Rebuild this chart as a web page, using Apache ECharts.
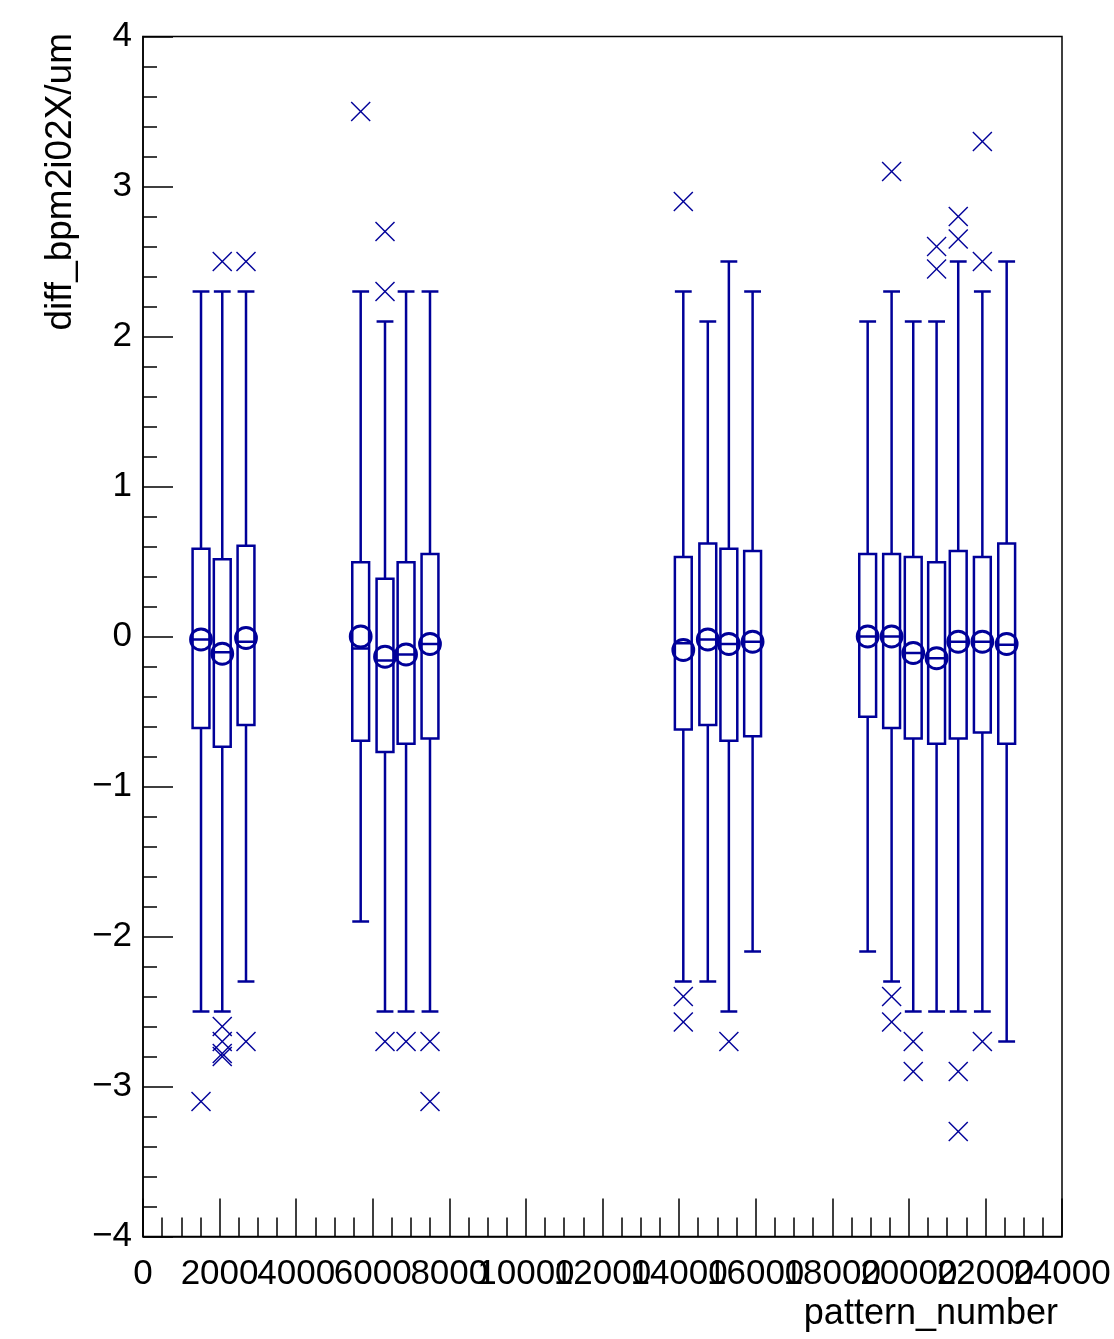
<!DOCTYPE html>
<html>
<head>
<meta charset="utf-8">
<script src="https://cdn.jsdelivr.net/npm/echarts@6/dist/echarts.min.js"></script>
<style>
  html, body { margin: 0; padding: 0; background: #fff; overflow: hidden; }
  #chart { width: 1114px; height: 1339px; }
</style>
</head>
<body>
<div id="chart"></div>
<script>
// ---- data ----
const positions   = [1515, 2070, 2690, 5685, 6320, 6870, 7495, 14110, 14750, 15300, 15920, 18925, 19550, 20115, 20725, 21290, 21920, 22555];
const whiskerLow  = [-2.5, -2.5, -2.3, -1.9, -2.5, -2.5, -2.5, -2.3, -2.3, -2.5, -2.1, -2.1, -2.3, -2.5, -2.5, -2.5, -2.5, -2.7];
const q1          = [-0.61, -0.735, -0.59, -0.695, -0.77, -0.715, -0.68, -0.62, -0.59, -0.695, -0.665, -0.535, -0.61, -0.68, -0.715, -0.68, -0.64, -0.715];
const median      = [-0.02, -0.105, -0.035, -0.08, -0.16, -0.12, -0.05, -0.045, -0.02, -0.05, -0.035, 0.0, 0.0, -0.11, -0.145, -0.035, -0.035, -0.055];
const q3          = [0.585, 0.515, 0.605, 0.495, 0.385, 0.495, 0.55, 0.53, 0.62, 0.585, 0.57, 0.55, 0.55, 0.53, 0.495, 0.57, 0.53, 0.62];
const whiskerHigh = [2.3, 2.3, 2.3, 2.3, 2.1, 2.3, 2.3, 2.3, 2.1, 2.5, 2.3, 2.1, 2.3, 2.1, 2.1, 2.5, 2.3, 2.5];
const means       = [-0.02, -0.115, -0.01, 0.0, -0.135, -0.12, -0.05, -0.09, -0.02, -0.05, -0.035, 0.0, 0.0, -0.11, -0.145, -0.035, -0.035, -0.05];

// outliers: index of the box they belong to, and value
const outlierIdx = [0, 1, 1, 1, 1, 1, 2, 2, 3, 4, 4, 4, 5, 6, 6, 7, 7, 7, 9, 12, 12, 12, 13, 13, 14, 14, 15, 15, 15, 15, 16, 16, 16];
const outlierVal = [-3.1, 2.5, -2.6, -2.7, -2.78, -2.8, 2.5, -2.7, 3.5, 2.7, 2.3, -2.7, -2.7, -2.7, -3.1, 2.9, -2.4, -2.57, -2.7, 3.1, -2.4, -2.57, -2.7, -2.9, 2.6, 2.45, 2.8, 2.65, -2.9, -3.3, 3.3, 2.5, -2.7];

// axis ranges / ticks
const xMin = 0, xMax = 24000, xStep = 2000;
const yMin = -4, yMax = 4, yStep = 1;

const xTitle = 'pattern_number';
const yTitle = 'diff_bpm2i02X/um';

// ---- styling ----
const COLOR = '#000099';
const FONT = '"Liberation Sans", Arial, Helvetica, sans-serif';
const BOX_WIDTH = 440; // in x data units

const candleData = positions.map((x, i) => [x, whiskerLow[i], q1[i], median[i], q3[i], whiskerHigh[i], means[i]]);
const outlierData = outlierIdx.map((k, j) => [positions[k], outlierVal[j]]);

function renderCandle(params, api) {
  const x = api.value(0);
  const pLow = api.coord([x, api.value(1)]);
  const pQ1 = api.coord([x, api.value(2)]);
  const pMed = api.coord([x, api.value(3)]);
  const pQ3 = api.coord([x, api.value(4)]);
  const pHigh = api.coord([x, api.value(5)]);
  const pMean = api.coord([x, api.value(6)]);
  const hw = api.size([BOX_WIDTH, 0])[0] / 2;
  const cx = pLow[0];
  const st = { stroke: COLOR, lineWidth: 2.5, fill: 'none' };
  return {
    type: 'group',
    children: [
      { type: 'line', shape: { x1: cx, y1: pLow[1], x2: cx, y2: pQ1[1] }, style: st },
      { type: 'line', shape: { x1: cx - hw, y1: pLow[1], x2: cx + hw, y2: pLow[1] }, style: st },
      { type: 'line', shape: { x1: cx, y1: pQ3[1], x2: cx, y2: pHigh[1] }, style: st },
      { type: 'line', shape: { x1: cx - hw, y1: pHigh[1], x2: cx + hw, y2: pHigh[1] }, style: st },
      { type: 'rect', shape: { x: cx - hw, y: pQ3[1], width: 2 * hw, height: pQ1[1] - pQ3[1] }, style: st },
      { type: 'line', shape: { x1: cx - hw, y1: pMed[1], x2: cx + hw, y2: pMed[1] }, style: st },
      { type: 'circle', shape: { cx: cx, cy: pMean[1], r: 10.5 }, style: { stroke: COLOR, lineWidth: 2.8, fill: 'none' } }
    ]
  };
}

function renderCross(params, api) {
  const p = api.coord([api.value(0), api.value(1)]);
  const s = 9.5;
  const st = { stroke: COLOR, lineWidth: 1.4 };
  return {
    type: 'group',
    children: [
      { type: 'line', shape: { x1: p[0] - s, y1: p[1] - s, x2: p[0] + s, y2: p[1] + s }, style: st },
      { type: 'line', shape: { x1: p[0] - s, y1: p[1] + s, x2: p[0] + s, y2: p[1] - s }, style: st }
    ]
  };
}

const chart = echarts.init(document.getElementById('chart'), null, { renderer: 'canvas' });
const tickLine = { color: '#000', width: 1.5 };
const xLabelBase = { show: true, color: '#000', fontSize: 35, fontFamily: FONT, margin: 20, hideOverlap: false };
const option = {
  animation: false,
  backgroundColor: '#fff',
  grid: {
    left: 143, right: 52, top: 36.5, bottom: 102.5,
    show: true, borderColor: '#000', borderWidth: 1.5, backgroundColor: 'transparent',
    containLabel: false, outerBoundsMode: 'none'
  },
  xAxis: [
    {
      type: 'value', position: 'bottom', min: xMin, max: xMax, interval: xStep,
      axisLine: { show: true, onZero: false, lineStyle: tickLine },
      axisTick: { show: true, inside: true, length: 38, lineStyle: tickLine },
      minorTick: { show: true, splitNumber: 4, length: 19, lineStyle: tickLine },
      splitLine: { show: false },
      axisLabel: Object.assign({}, xLabelBase, {
        showMinLabel: true, showMaxLabel: false,
        formatter: v => String(v)
      })
    },
    {
      // carries only the last tick label, so that the overlapping pair 22000/24000 both show
      type: 'value', position: 'bottom', min: xMin, max: xMax, interval: xStep,
      axisLine: { show: false, onZero: false },
      axisTick: { show: false },
      minorTick: { show: false },
      splitLine: { show: false },
      axisLabel: Object.assign({}, xLabelBase, {
        showMinLabel: true, showMaxLabel: true,
        formatter: v => (v === xMax ? String(v) : '')
      })
    }
  ],
  yAxis: {
    type: 'value', min: yMin, max: yMax, interval: yStep,
    axisLine: { show: true, onZero: false, lineStyle: tickLine },
    axisTick: { show: true, inside: true, length: 30, lineStyle: tickLine },
    minorTick: { show: true, splitNumber: 5, length: 14, lineStyle: tickLine },
    splitLine: { show: false },
    axisLabel: {
      show: true, color: '#000', fontSize: 35, fontFamily: FONT, margin: 11, showMinLabel: true, showMaxLabel: true,
      formatter: v => (v < 0 ? '\u2212' + Math.abs(v) : String(v))
    }
  },
  graphic: [
    { type: 'text', x: 61, y: 33, rotation: Math.PI / 2,
      style: { text: yTitle, font: '37px ' + FONT, fill: '#000', align: 'right', verticalAlign: 'middle' } },
    { type: 'text', x: 1058, y: 1314,
      style: { text: xTitle, font: '36px ' + FONT, fill: '#000', align: 'right', verticalAlign: 'middle' } }
  ],
  series: [
    { type: 'custom', xAxisIndex: 0, renderItem: renderCandle, data: candleData, encode: { x: 0, y: [1, 2, 3, 4, 5, 6] }, clip: false, z: 3 },
    { type: 'custom', xAxisIndex: 0, renderItem: renderCross, data: outlierData, encode: { x: 0, y: 1 }, clip: false, z: 4 }
  ]
};
chart.setOption(option);
</script>
</body>
</html>
